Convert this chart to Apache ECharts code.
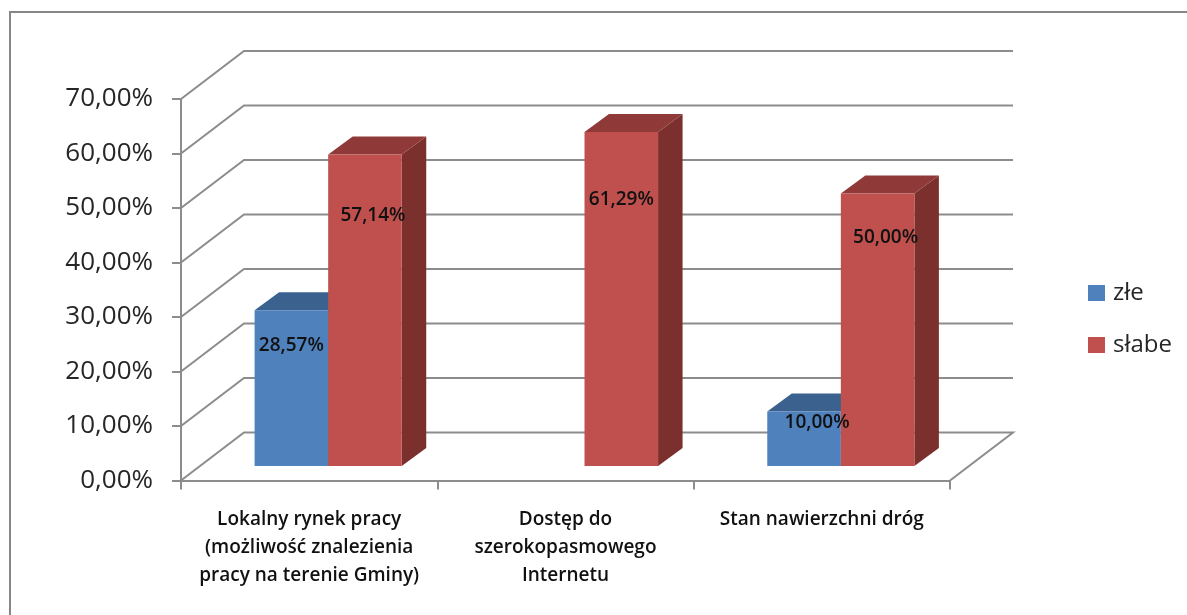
<!DOCTYPE html>
<html>
<head>
<meta charset="utf-8">
<title>Wykres</title>
<style>
	html, body { margin: 0; padding: 0; background: #fff; }
	#main { width: 1187px; height: 615px; }
</style>
<script src="https://cdn.jsdelivr.net/npm/echarts@6/dist/echarts.min.js"></script>
</head>
<body>
<div id="main"></div>
<script>
var categories = [
	'Lokalny rynek pracy\n(możliwość znalezienia\npracy na terenie Gminy)',
	'Dostęp do\nszerokopasmowego\nInternetu',
	'Stan nawierzchni dróg'
];
var zleValues = [28.57, null, 10.00];
var slabeValues = [57.14, 61.29, 50.00];
var yTicks = [0, 10, 20, 30, 40, 50, 60, 70];

var FONT = '"Open Sans", sans-serif';
var GRID_COLOR = '#8c8c8c';
var TEXT_COLOR = '#262626';

// back wall sits this far behind the front axes
var WALL_DX = 63, WALL_DY = -48;
// bars stand a bit behind the front axis and have their own depth
var FRONT_DX = 19, FRONT_DY = -14.5;
var DEPTH_DX = 24.5, DEPTH_DY = -18;
var BAR_SHARE = 0.287;

// excel labels were moved by hand: [series][category] -> px from bar centre / bar top
var LABEL_NUDGE = [
	[[0, 35], null, [13, 11]],
	[[8, 61], [0, 68], [8, 44]]
];

function fmt(v) {
	return v.toFixed(2).replace('.', ',') + '%';
}

function pairs(values) {
	var out = [];
	for (var i = 0; i < values.length; i++) {
		if (values[i] !== null) out.push([i, values[i]]);
	}
	return out;
}

var renderGrid = function (params, api) {
	var cs = params.coordSys;
	var val = api.value(0);
	var p = api.coord([0, val]);
	var y = p[1];
	var pts = [[cs.x, y], [cs.x + WALL_DX, y + WALL_DY], [cs.x + cs.width + WALL_DX, y + WALL_DY]];
	if (val === 0) pts.push([cs.x + cs.width, y]);
	return {
		type: 'polyline',
		shape: { points: pts },
		style: { fill: null, stroke: GRID_COLOR, lineWidth: 2 }
	};
};

function barGeom(api, side) {
	var band = api.size([1, 0])[0];
	var w = band * BAR_SHARE;
	var top = api.coord([api.value(0), api.value(1)]);
	var base = api.coord([api.value(0), 0]);
	var x = top[0] + FRONT_DX + (side === 0 ? -w : 0);
	return { x: x, w: w, top: top[1] + FRONT_DY, bottom: base[1] + FRONT_DY };
}

function renderBar(side, topColor, sideColor) {
	return function (params, api) {
		var g = barGeom(api, side);
		var r = g.x + g.w;
		return {
			type: 'group',
			children: [{
				type: 'polygon',
				shape: { points: [[r, g.top], [r + DEPTH_DX, g.top + DEPTH_DY], [r + DEPTH_DX, g.bottom + DEPTH_DY], [r, g.bottom]] },
				style: { fill: sideColor }
			}, {
				type: 'polygon',
				shape: { points: [[g.x, g.top], [g.x + DEPTH_DX, g.top + DEPTH_DY], [r + DEPTH_DX, g.top + DEPTH_DY], [r, g.top]] },
				style: { fill: topColor }
			}, {
				type: 'rect',
				shape: { x: g.x, y: g.top, width: g.w, height: g.bottom - g.top },
				style: { fill: api.visual('color') }
			}]
		};
	};
}

// labels go in their own series, 10,00% has to lie over the neighbouring red bar
function renderLabels(side) {
	return function (params, api) {
		var g = barGeom(api, side);
		var nudge = LABEL_NUDGE[side][api.value(0)];
		return {
			type: 'text',
			style: {
				x: g.x + g.w / 2 + nudge[0],
				y: g.top + nudge[1],
				text: fmt(api.value(1)),
				font: '600 19px ' + FONT,
				fill: '#111',
				align: 'center',
				verticalAlign: 'middle'
			}
		};
	};
}

var option = {
	backgroundColor: '#fff',
	animation: false,
	graphic: [{
		type: 'rect',
		shape: { x: 10, y: 12, width: 1300, height: 800 },
		style: { fill: null, stroke: '#868686', lineWidth: 2 },
		silent: true,
		z: 0
	}],
	legend: {
		data: ['złe', 'słabe'],
		orient: 'vertical',
		left: 1083,
		top: 276,
		itemWidth: 17,
		itemHeight: 16,
		itemGap: 28,
		icon: 'rect',
		textStyle: { fontFamily: FONT, fontSize: 24, color: TEXT_COLOR, padding: [0, 0, 0, 3] }
	},
	grid: { left: 181, top: 99, width: 769, height: 381.5 },
	xAxis: {
		type: 'category',
		data: categories,
		axisLine: { lineStyle: { color: GRID_COLOR, width: 2 } },
		axisTick: { show: true, length: 9, lineStyle: { color: GRID_COLOR, width: 2 } },
		axisLabel: {
			interval: 0,
			margin: 25,
			lineHeight: 28,
			fontFamily: FONT,
			fontSize: 19,
			fontWeight: 600,
			color: '#111'
		}
	},
	yAxis: {
		type: 'value',
		min: 0,
		max: 70,
		interval: 10,
		splitLine: { show: false },
		axisLine: { show: true, lineStyle: { color: GRID_COLOR, width: 2 } },
		axisTick: { show: true, length: 9, lineStyle: { color: GRID_COLOR, width: 2 } },
		axisLabel: {
			margin: 28,
			fontFamily: FONT,
			fontSize: 26,
			color: TEXT_COLOR,
			formatter: function (v) { return fmt(v); }
		}
	},
	series: [{
		type: 'custom',
		name: 'siatka',
		z: 1,
		silent: true,
		encode: { y: 0 },
		data: yTicks,
		renderItem: renderGrid
	}, {
		type: 'custom',
		name: 'złe',
		z: 3,
		itemStyle: { color: '#4F81BD' },
		encode: { x: 0, y: 1 },
		data: pairs(zleValues),
		renderItem: renderBar(0, '#3B618F', '#355A85')
	}, {
		type: 'custom',
		name: 'słabe',
		z: 4,
		itemStyle: { color: '#C0504D' },
		encode: { x: 0, y: 1 },
		data: pairs(slabeValues),
		renderItem: renderBar(1, '#8F3A38', '#7B302E')
	}, {
		type: 'custom',
		name: 'etykiety złe',
		z: 5,
		silent: true,
		encode: { x: 0, y: 1 },
		data: pairs(zleValues),
		renderItem: renderLabels(0)
	}, {
		type: 'custom',
		name: 'etykiety słabe',
		z: 5,
		silent: true,
		encode: { x: 0, y: 1 },
		data: pairs(slabeValues),
		renderItem: renderLabels(1)
	}]
};

var chart = echarts.init(document.getElementById('main'));
chart.setOption(option);
</script>
</body>
</html>
